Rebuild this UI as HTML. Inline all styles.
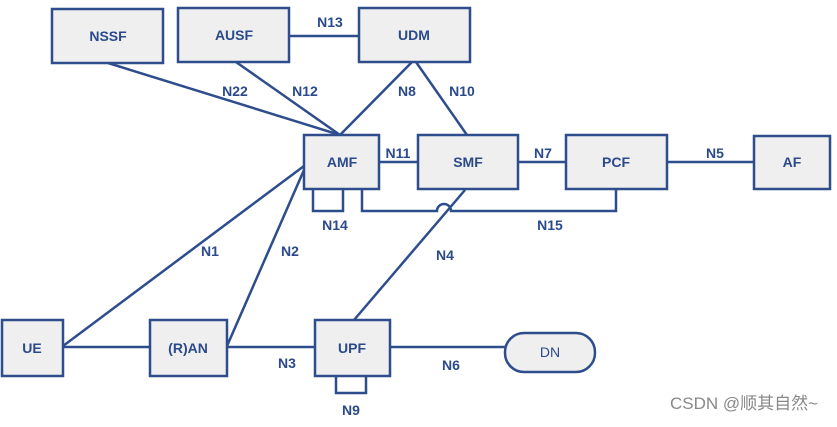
<!DOCTYPE html>
<html><head><meta charset="utf-8"><style>
body{margin:0;background:#fff;width:837px;height:422px;overflow:hidden}
svg text{font-family:"Liberation Sans",sans-serif;font-weight:bold;fill:#2b4a8b;font-size:14px;text-anchor:middle}
</style></head><body>
<svg width="837" height="422" xmlns="http://www.w3.org/2000/svg">
<g stroke="#2e4d8c" stroke-width="2.5" fill="none">
<line x1="108" y1="63" x2="340" y2="135"/>
<line x1="236" y1="62" x2="340" y2="135"/>
<line x1="412" y1="62" x2="340" y2="135"/>
<line x1="416" y1="62" x2="467" y2="135"/>
<line x1="289" y1="36" x2="359" y2="36"/>
<line x1="379" y1="162" x2="418" y2="162"/>
<line x1="518" y1="162" x2="566" y2="162"/>
<line x1="667" y1="162" x2="754" y2="162"/>
<line x1="63" y1="346" x2="304" y2="166"/>
<line x1="227" y1="346" x2="304" y2="170"/>
<line x1="465" y1="190" x2="354" y2="320"/>
<line x1="63" y1="347" x2="150" y2="347"/>
<line x1="227" y1="347" x2="315" y2="347"/>
<line x1="390" y1="347" x2="505" y2="347"/>
<polyline points="313,189 313,211 343,211 343,189"/>
<path d="M362,189 V211 H437 A7,7 0 0 1 451,211 H616 V189"/>
<polyline points="336,376 336,393 366,393 366,376"/>
</g>
<g stroke="#2e4d8c" stroke-width="2.5" fill="#efefef">
<rect x="52" y="9" width="111" height="54"/>
<rect x="178" y="8" width="111" height="54"/>
<rect x="359" y="8" width="111" height="54"/>
<rect x="304" y="135" width="75" height="54"/>
<rect x="418" y="135" width="100" height="54"/>
<rect x="566" y="135" width="101" height="54"/>
<rect x="754" y="136" width="76" height="53"/>
<rect x="2" y="320" width="61" height="56"/>
<rect x="150" y="320" width="77" height="56"/>
<rect x="315" y="320" width="75" height="56"/>
<rect x="505" y="333" width="90" height="39" rx="19"/>
</g>
<text x="108" y="41">NSSF</text>
<text x="234" y="40">AUSF</text>
<text x="414" y="40">UDM</text>
<text x="342" y="167">AMF</text>
<text x="468" y="167">SMF</text>
<text x="616" y="167">PCF</text>
<text x="792" y="167">AF</text>
<text x="32" y="353">UE</text>
<text x="188" y="353">(R)AN</text>
<text x="352" y="353">UPF</text>
<text x="550" y="357" style="font-weight:normal">DN</text>
<text x="330" y="27">N13</text>
<text x="235" y="96">N22</text>
<text x="305" y="96">N12</text>
<text x="407" y="96">N8</text>
<text x="462" y="96">N10</text>
<text x="398" y="158">N11</text>
<text x="543" y="158">N7</text>
<text x="715" y="158">N5</text>
<text x="335" y="230">N14</text>
<text x="550" y="230">N15</text>
<text x="445" y="260">N4</text>
<text x="210" y="256">N1</text>
<text x="290" y="256">N2</text>
<text x="287" y="368">N3</text>
<text x="451" y="370">N6</text>
<text x="351" y="415">N9</text>
<text x="744" y="409" style="font-weight:normal;fill:#888;font-size:17px;font-family:'Liberation Sans','Noto Sans CJK SC',sans-serif">CSDN @顺其自然~</text>
</svg>
</body></html>
